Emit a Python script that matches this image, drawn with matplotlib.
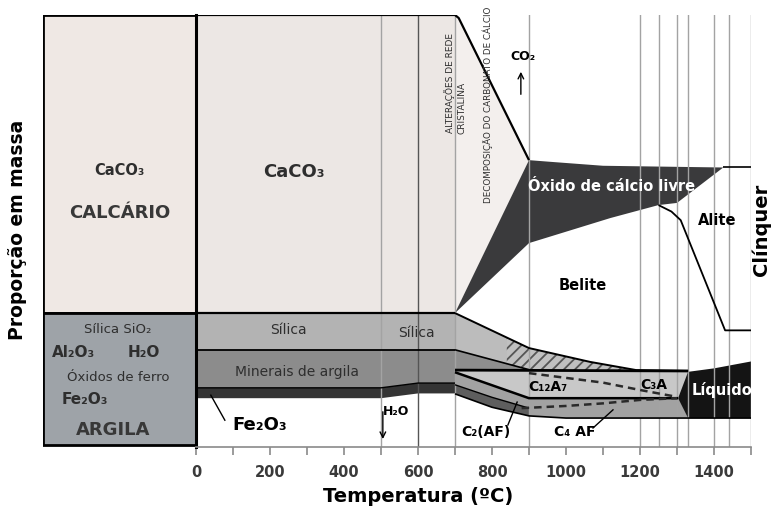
import numpy as np
import matplotlib.pyplot as plt
from matplotlib.patches import Rectangle

plt.rcParams['font.family'] = ['DejaVu Sans']
plt.rcParams['hatch.linewidth'] = 1.3

# temperature axis
temp_ticks = list(range(0, 1501, 100))
temp_labels = [str(t) if t % 200 == 0 and t < 1500 else '' for t in temp_ticks]
phase_lines = [500, 600, 700, 900, 1200, 1250, 1300, 1330, 1400, 1440, 1500]

# raw meal below 700 C (proportion in %)
raw_x = [0, 500, 600, 700]
silica_top = [31.0, 31.0, 31.0, 31.0]
silica_bot = [22.5, 22.5, 22.5, 22.5]
fe_top = [13.7, 13.7, 14.8, 14.8]
fe_bot = [11.3, 11.3, 12.4, 12.4]

# calcite decomposition
caco3_x = [0, 700, 710, 900]
caco3_y = [100, 100, 99.3, 66.4]
cao_up_x = [700, 900, 960, 1100, 1425]
cao_up_y = [31.0, 66.4, 66.0, 65.1, 64.7]
cao_lo_x = [700, 900, 1120, 1250, 1300, 1425]
cao_lo_y = [31.0, 47.2, 53.0, 56.0, 56.5, 64.7]
clinker_top_x = [1425, 1500]
clinker_top_y = [64.7, 64.7]
alite_x = [1250, 1285, 1310, 1430, 1500]
alite_y = [56.0, 54.5, 52.5, 27.0, 27.0]

# aluminates / ferrites above 700 C
l1_x = [700, 900, 1065, 1190, 1330]
l1_y = [31.0, 22.9, 19.7, 17.8, 17.6]
l2_x = [700, 900]
l2_y = [22.5, 17.9]
l3_x = [700, 1330]
l3_y = [17.8, 17.6]
l4_x = [700, 900, 1303]
l4_y = [17.3, 11.3, 11.3]
l5_x = [700, 800, 900]
l5_y = [14.4, 11.5, 9.0]
bot_x = [700, 800, 900, 1000, 1330, 1500]
bot_y = [12.3, 9.2, 7.2, 6.7, 6.7, 6.7]
hatch_x = [840, 900, 1065, 1190]
hatch_top = [25.3, 22.9, 19.7, 17.8]
hatch_bot = [19.2, 17.9, 17.8, 17.8]
c12a7_x = [900, 1000, 1100, 1200, 1300]
c12a7_y = [17.1, 16.0, 14.9, 13.2, 11.6]
c4af_x = [880, 1000, 1100, 1200, 1300]
c4af_y = [9.0, 9.5, 10.1, 10.9, 11.3]
liq_x = [1303, 1330, 1400, 1500, 1500, 1330]
liq_y = [11.3, 17.4, 18.2, 19.8, 6.7, 6.7]

W, H = 771, 514
fig = plt.figure(figsize=(W / 100, H / 100), dpi=100)


def box(x0, y0, x1, y1):
    return [x0 / W, 1 - y1 / H, (x1 - x0) / W, (y1 - y0) / H]


def poly(ax, xa, ya, xb, yb, **kw):
    ax.fill(list(xa) + list(xb)[::-1], list(ya) + list(yb)[::-1], lw=0, **kw)


# left boxes: raw materials
axl = fig.add_axes(box(43, 15, 196, 447))
axl.set_xlim(0, 1)
axl.set_ylim(0, 100)
axl.axis('off')
axl.add_patch(Rectangle((0, 31), 1, 69, fc='#efe8e4', ec='black', lw=2))
axl.add_patch(Rectangle((0, 0.5), 1, 30.5, fc='#9ea3a8', ec='black', lw=2))
tc = '#2e2e2e'
axl.text(0.5, 64.1, 'CaCO₃', ha='center', va='center', fontsize=10.5, weight='bold', color=tc)
axl.text(0.5, 54.2, 'CALCÁRIO', ha='center', va='center', fontsize=13, weight='bold', color='#383838')
axl.text(0.49, 27.1, 'Sílica SiO₂', ha='center', va='center', fontsize=9.5, color=tc)
axl.text(0.2, 21.8, 'Al₂O₃', ha='center', va='center', fontsize=11, weight='bold', color=tc)
axl.text(0.66, 21.8, 'H₂O', ha='center', va='center', fontsize=11, weight='bold', color=tc)
axl.text(0.49, 16.2, 'Óxidos de ferro', ha='center', va='center', fontsize=9.5, color=tc)
axl.text(0.275, 10.9, 'Fe₂O₃', ha='center', va='center', fontsize=11, weight='bold', color=tc)
axl.text(0.46, 3.9, 'ARGILA', ha='center', va='center', fontsize=13, weight='bold', color='#383838')

# main diagram
ax = fig.add_axes(box(196, 15, 751, 447))
ax.set_xlim(0, 1500)
ax.set_ylim(0, 100)

poly(ax, caco3_x, caco3_y, [0, 700], [31, 31], color='#ece7e4', zorder=1)
poly(ax, [700, 710, 900], [100, 99.3, 66.4], [700, 900], [31, 66.4], color='#f3efed', zorder=1)
poly(ax, raw_x, silica_top, raw_x, silica_bot, color='#b3b3b3', zorder=1)
poly(ax, raw_x, silica_bot, raw_x, fe_top, color='#8c8c8c', zorder=1)
poly(ax, raw_x, fe_top, raw_x, fe_bot, color='#353535', zorder=1)

poly(ax, l1_x, l1_y, l3_x, l3_y, color='#bcbcbc', zorder=1)
poly(ax, l2_x, l2_y, [700, 900], [17.8, 17.8], color='#8e8e8e', zorder=1.1)
poly(ax, l3_x, l3_y, l4_x + [1330], l4_y + [11.3], color='#c8c8c8', zorder=1)
poly(ax, l4_x + [1330], l4_y + [11.3], bot_x[:5], bot_y[:5], color='#a2a2a2', zorder=1)
poly(ax, l5_x, l5_y, bot_x[:3], bot_y[:3], color='#5e5e5e', zorder=1.1)
ax.fill(hatch_x + hatch_x[::-1], hatch_top + hatch_bot[::-1], fc='#c0c0c0',
        ec='#555555', hatch='///', lw=0, zorder=1.2)
poly(ax, cao_up_x, cao_up_y, cao_lo_x, cao_lo_y, color='#3a3a3c', zorder=1.3)
ax.fill(liq_x, liq_y, color='#141414', lw=0, zorder=1.3)

# phase boundaries
for t in phase_lines:
    c = '#555555' if t == 600 else '#a3a3a3'
    ax.plot([t, t], [0, 100], color=c, lw=1.0, zorder=2)

k = dict(color='black', zorder=3, solid_capstyle='butt')
ax.plot(caco3_x, caco3_y, lw=1.6, **k)
ax.plot([0, 700], [31, 31], lw=1.6, **k)
ax.plot(raw_x, silica_bot, lw=1.3, **k)
ax.plot(raw_x, fe_top, lw=1.0, **k)
ax.plot(l1_x, l1_y, lw=1.4, **k)
ax.plot(l2_x, l2_y, lw=1.2, **k)
ax.plot(l3_x, l3_y, lw=2.0, **k)
ax.plot(l4_x, l4_y, lw=1.8, **k)
ax.plot(l5_x, l5_y, lw=1.0, **k)
ax.plot(bot_x, bot_y, lw=1.2, **k)
ax.plot(clinker_top_x, clinker_top_y, lw=1.2, **k)
ax.plot(alite_x, alite_y, lw=1.3, **k)
ax.plot(c12a7_x, c12a7_y, color='#2a2a2a', lw=1.8, ls=(0, (3, 2)), zorder=3)
ax.plot(c4af_x, c4af_y, color='#2a2a2a', lw=1.8, ls=(0, (3, 2)), zorder=3)

# axes styling
for s in ['top', 'right']:
    ax.spines[s].set_visible(False)
ax.spines['left'].set_linewidth(2.2)
ax.spines['left'].set_color('black')
ax.spines['bottom'].set_color('#8a8a8a')
ax.spines['bottom'].set_linewidth(1.2)
ax.set_yticks([])
ax.set_xticks(temp_ticks)
ax.set_xticklabels(temp_labels, fontsize=10.5, weight='bold', color='#3a3a3a')
ax.tick_params(axis='x', length=6, width=1.2, color='#8a8a8a', pad=7)

# labels inside
ax.text(265, 63.7, 'CaCO₃', ha='center', va='center', fontsize=13, weight='bold', color=tc)
ax.text(251, 27.1, 'Sílica', ha='center', va='center', fontsize=10, color=tc, zorder=4)
ax.text(595, 26.4, 'Sílica', ha='center', va='center', fontsize=10, color=tc, zorder=4)
ax.text(273, 17.4, 'Minerais de argila', ha='center', va='center', fontsize=10, color=tc, zorder=4)
ax.text(173, 5.1, 'Fe₂O₃', ha='center', va='center', fontsize=13, weight='bold', color='black')
ax.plot([40, 78], [12.0, 6.2], color='black', lw=1.0, zorder=4)
ax.text(540, 8.2, 'H₂O', ha='center', va='center', fontsize=9, weight='bold', color='black')
ax.annotate('', xy=(505, 1.2), xytext=(505, 8.8),
            arrowprops=dict(arrowstyle='->', color='black', lw=1.0))
ax.text(686, 72.7, 'ALTERAÇÕES DE REDE', rotation=90, ha='center', va='bottom', fontsize=6.5, color=tc)
ax.text(719, 72.5, 'CRISTALINA', rotation=90, ha='center', va='bottom', fontsize=6.5, color=tc)
ax.text(789, 56.5, 'DECOMPOSIÇÃO DO CARBONATO DE CÁLCIO', rotation=90, ha='center',
        va='bottom', fontsize=6.3, color=tc, clip_on=False, zorder=4)
ax.text(884, 90.5, 'CO₂', ha='center', va='center', fontsize=9, weight='bold', color='black')
ax.annotate('', xy=(878, 87.5), xytext=(878, 81.0),
            arrowprops=dict(arrowstyle='->', color='black', lw=1.0))
ax.text(1124, 60.2, 'Óxido de cálcio livre', ha='center', va='center', fontsize=10.5,
        color='white', weight='bold', zorder=5)
ax.text(1408, 52.5, 'Alite', ha='center', va='center', fontsize=10.5, weight='bold', color='black')
ax.text(1046, 37.5, 'Belite', ha='center', va='center', fontsize=10.5, weight='bold', color='black')
ax.text(951, 13.9, 'C₁₂A₇', ha='center', va='center', fontsize=10, weight='bold', color='black', zorder=5)
ax.text(1238, 14.4, 'C₃A', ha='center', va='center', fontsize=10, weight='bold', color='black', zorder=5)
ax.text(1422, 13.2, 'Líquido', ha='center', va='center', fontsize=10.5, weight='bold', color='white', zorder=5)
ax.text(784, 3.5, 'C₂(AF)', ha='center', va='center', fontsize=10, weight='bold', color='black')
ax.plot([843, 868], [5.1, 10.4], color='black', lw=1.0, zorder=4)
ax.text(1024, 3.5, 'C₄ AF', ha='center', va='center', fontsize=10, weight='bold', color='black')
ax.plot([1073, 1127], [4.4, 8.6], color='black', lw=1.0, zorder=4)

fig.text(18 / W, 1 - 230 / H, 'Proporção em massa', rotation=90, ha='center', va='center',
         fontsize=13.5, weight='bold', color='black')
fig.text(761 / W, 1 - 230 / H, 'Clínquer', rotation=90, ha='center', va='center',
         fontsize=14, weight='bold', color='black')
fig.text(418 / W, 1 - 497 / H, 'Temperatura (ºC)', ha='center', va='center',
         fontsize=14, weight='bold', color='black')

fig.savefig('out.png', dpi=100)
